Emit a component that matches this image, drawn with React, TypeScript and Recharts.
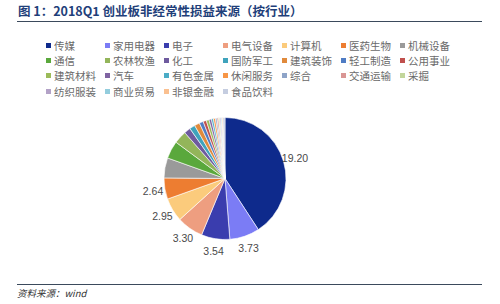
import React from "react";
import { PieChart, Pie, Cell } from "recharts";

const categories = [
  "传媒", "家用电器", "电子", "电气设备", "计算机", "医药生物", "机械设备",
  "通信", "农林牧渔", "化工", "国防军工", "建筑装饰", "轻工制造", "公用事业",
  "建筑材料", "汽车", "有色金属", "休闲服务", "综合", "交通运输", "采掘",
  "纺织服装", "商业贸易", "非银金融", "食品饮料",
];

const values = [
  19.2, 3.73, 3.54, 3.3, 2.95, 2.64, 2.5,
  2.2, 1.6, 0.8, 0.7, 0.65, 0.5, 0.4,
  0.35, 0.3, 0.25, 0.25, 0.2, 0.2, 0.15,
  0.15, 0.12, 0.12, 0.25,
];

const colors = [
  "#0E2A8C", "#7B7CF5", "#3A3DAE", "#EE9E80", "#FBCB7C", "#ED7D31", "#9A9A9A",
  "#5AA83C", "#93B55A", "#6E5A9E", "#3FA3BC", "#E08A3C", "#4F7CC4", "#C0504D",
  "#9BBB59", "#8064A2", "#4BACC6", "#F79646", "#8EA4C8", "#D99694", "#C3D69B",
  "#B3A2C7", "#93CDDD", "#FAC090", "#C5CDE0",
];

const labelCount = 6;
const legendColumns = 7;

const data = categories.map((name, i) => ({ name, value: values[i] }));

const RADIAN = Math.PI / 180;

const renderLabel = (props: any) => {
  const { cx, cy, midAngle, outerRadius, index, value } = props;
  if (index >= labelCount) return null;
  const r = outerRadius + 12;
  const x = cx + r * Math.cos(-midAngle * RADIAN);
  const y = cy + r * Math.sin(-midAngle * RADIAN);
  return (
    <text
      x={x}
      y={y}
      fill="#4a4a4a"
      fontSize={10.5}
      fontFamily="Liberation Sans, Arial, sans-serif"
      textAnchor="middle"
      dominantBaseline="central"
    >
      {value.toFixed(2)}
    </text>
  );
};

export default function App() {
  return (
    <div
      style={{
        position: "absolute",
        left: 0,
        top: 0,
        width: 500,
        height: 304,
        background: "#fff",
        overflow: "hidden",
        fontFamily: "'Noto Sans CJK SC', sans-serif",
      }}
    >
      <div
        style={{
          position: "absolute",
          left: 18,
          top: 2,
          fontSize: 12.5,
          fontWeight: 700,
          color: "#1F3F7A",
          whiteSpace: "nowrap",
          lineHeight: "18px",
        }}
      >
        图 1：2018Q1 创业板非经常性损益来源（按行业）
      </div>
      <div
        style={{
          position: "absolute",
          left: 17,
          top: 21,
          width: 465,
          height: 1,
          background: "#3B4A5C",
        }}
      />
      {categories.map((name, i) => {
        const col = i % legendColumns;
        const row = Math.floor(i / legendColumns);
        return (
          <div
            key={name}
            style={{
              position: "absolute",
              left: 46 + col * 59,
              top: 38 + row * 15.4,
              height: 14,
              display: "flex",
              alignItems: "center",
              fontSize: 10.5,
              color: "#6a6a6a",
              whiteSpace: "nowrap",
            }}
          >
            <span
              style={{
                display: "inline-block",
                width: 5,
                height: 5,
                background: colors[i],
                marginRight: 3,
              }}
            />
            {name}
          </div>
        );
      })}
      <div style={{ position: "absolute", left: 0, top: 0 }}>
        <PieChart width={500} height={304}>
          <Pie
            data={data}
            dataKey="value"
            nameKey="name"
            cx={220}
            cy={173.5}
            outerRadius={61}
            startAngle={90}
            endAngle={-270}
            stroke="#ffffff"
            strokeWidth={0.6}
            label={renderLabel}
            labelLine={false}
            isAnimationActive={false}
          >
            {data.map((d, i) => (
              <Cell key={d.name} fill={colors[i]} />
            ))}
          </Pie>
        </PieChart>
      </div>
      <div
        style={{
          position: "absolute",
          left: 17,
          top: 284,
          width: 465,
          height: 1,
          background: "#3B4A5C",
        }}
      />
      <div
        style={{
          position: "absolute",
          left: 17,
          top: 286,
          fontSize: 9.5,
          fontStyle: "italic",
          color: "#333",
          whiteSpace: "nowrap",
          lineHeight: "14px",
        }}
      >
        资料来源：wind
      </div>
    </div>
  );
}
